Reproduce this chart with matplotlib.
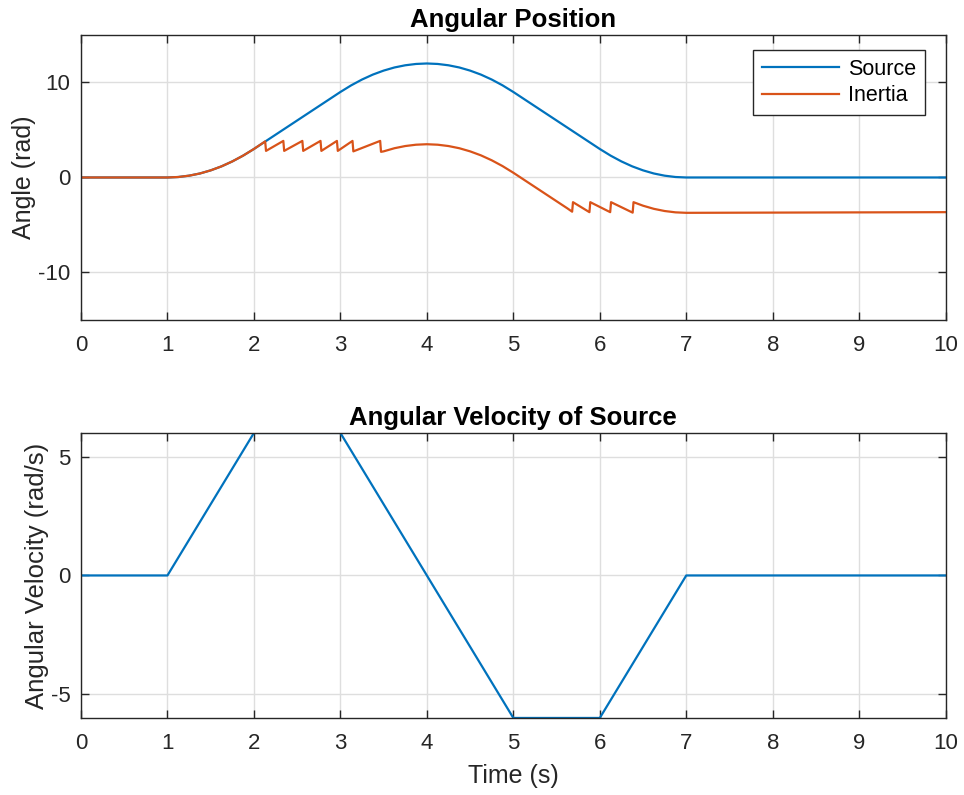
import matplotlib.pyplot as plt

plt.rcParams['font.family'] = ['Liberation Sans', 'DejaVu Sans']
plt.rcParams['axes.unicode_minus'] = False  # 用普通减号，像MATLAB那样

# 数据：时间和角度
t_src = [0, 1, 1.125, 1.25, 1.375, 1.5, 1.625, 1.75, 1.875, 2,
         2.125, 2.25, 2.375, 2.5, 2.625, 2.75, 2.875, 3,
         3.125, 3.25, 3.375, 3.5, 3.625, 3.75, 3.875, 4,
         4.125, 4.25, 4.375, 4.5, 4.625, 4.75, 4.875, 5,
         5.125, 5.25, 5.375, 5.5, 5.625, 5.75, 5.875, 6,
         6.125, 6.25, 6.375, 6.5, 6.625, 6.75, 6.875, 7, 10]
pos_src = [0, 0, 0.05, 0.19, 0.42, 0.75, 1.17, 1.69, 2.30, 3.0,
           3.75, 4.5, 5.25, 6.0, 6.75, 7.5, 8.25, 9.0,
           9.70, 10.31, 10.83, 11.25, 11.58, 11.81, 11.95, 12.0,
           11.95, 11.81, 11.58, 11.25, 10.83, 10.31, 9.70, 9.0,
           8.25, 7.5, 6.75, 6.0, 5.25, 4.5, 3.75, 3.0,
           2.30, 1.69, 1.17, 0.75, 0.42, 0.19, 0.05, 0, 0]

t_inr = [0, 1, 1.125, 1.25, 1.375, 1.5, 1.625, 1.75, 1.875, 2, 2.13,
         2.14, 2.34, 2.35, 2.56, 2.57, 2.77, 2.78, 2.96, 2.97, 3.14, 3.15, 3.46, 3.47,
         3.5, 3.625, 3.75, 3.875, 4, 4.125, 4.25, 4.375, 4.5, 4.625, 4.75, 4.875,
         5, 5.125, 5.25, 5.375, 5.5, 5.625, 5.68,
         5.69, 5.88, 5.89, 6.12, 6.13, 6.38, 6.39,
         6.5, 6.625, 6.75, 6.875, 7, 10]
pos_inr = [0, 0, 0.05, 0.19, 0.42, 0.75, 1.17, 1.69, 2.30, 3.0, 3.8,
           2.8, 3.85, 2.8, 3.85, 2.8, 3.85, 2.8, 3.85, 2.8, 3.85, 2.75, 3.85, 2.7,
           2.75, 3.08, 3.31, 3.45, 3.5, 3.45, 3.31, 3.08, 2.75, 2.33, 1.81, 1.20,
           0.5, -0.25, -1.0, -1.75, -2.5, -3.25, -3.6,
           -2.6, -3.65, -2.6, -3.65, -2.6, -3.7, -2.6,
           -2.97, -3.30, -3.53, -3.67, -3.72, -3.65]

# 源的角速度
t_vel = [0, 1, 2, 3, 5, 6, 7, 10]
vel_src = [0, 0, 6, 6, -6, -6, 0, 0]

blue = '#0072BD'
orange = '#D95319'
dark = '#262626'

def style_axes(ax):
    ax.grid(True, color='#dedede', linewidth=1.0)
    ax.set_axisbelow(True)
    ax.tick_params(direction='in', top=True, right=True, length=5.5, width=1.0,
                   colors=dark, labelsize=16)
    ax.tick_params(axis='x', pad=11)
    ax.tick_params(axis='y', pad=7.5)
    for s in ax.spines.values():
        s.set_color(dark)
        s.set_linewidth(1.0)
    ax.set_xlim(0, 10)
    ax.set_xticks(range(0, 11))

fig = plt.figure(figsize=(9.64, 7.95), dpi=100, facecolor='white')

ax1 = fig.add_axes([0.084, 0.5975, 0.897, 0.3585])
ax1.plot(t_src, pos_src, color=blue, linewidth=1.6, label='Source')
ax1.plot(t_inr, pos_inr, color=orange, linewidth=1.6, label='Inertia')
style_axes(ax1)
ax1.set_ylim(-15, 15)
ax1.set_yticks([-10, 0, 10])
ax1.set_ylabel('Angle (rad)', fontsize=18, color=dark, labelpad=2)
ax1.set_title('Angular Position', fontsize=18.5, fontweight='bold', pad=6)
leg = ax1.legend(loc='upper right', bbox_to_anchor=(0.9757, 0.947), borderaxespad=0,
                 fontsize=15.5, fancybox=False, framealpha=1, edgecolor=dark,
                 handlelength=3.6, labelspacing=0.25, handletextpad=0.4)
leg.get_frame().set_linewidth(1.0)

ax2 = fig.add_axes([0.084, 0.0969, 0.897, 0.3585])
ax2.plot(t_vel, vel_src, color=blue, linewidth=1.6)
style_axes(ax2)
ax2.set_ylim(-6, 6)
ax2.set_yticks([-5, 0, 5])
ax2.set_xlabel('Time (s)', fontsize=18, color=dark, labelpad=7)
ax2.set_ylabel('Angular Velocity (rad/s)', fontsize=18.5, color=dark, labelpad=1)
ax2.set_title('Angular Velocity of Source', fontsize=18.5, fontweight='bold', pad=6)

fig.savefig('out.png', dpi=100)
